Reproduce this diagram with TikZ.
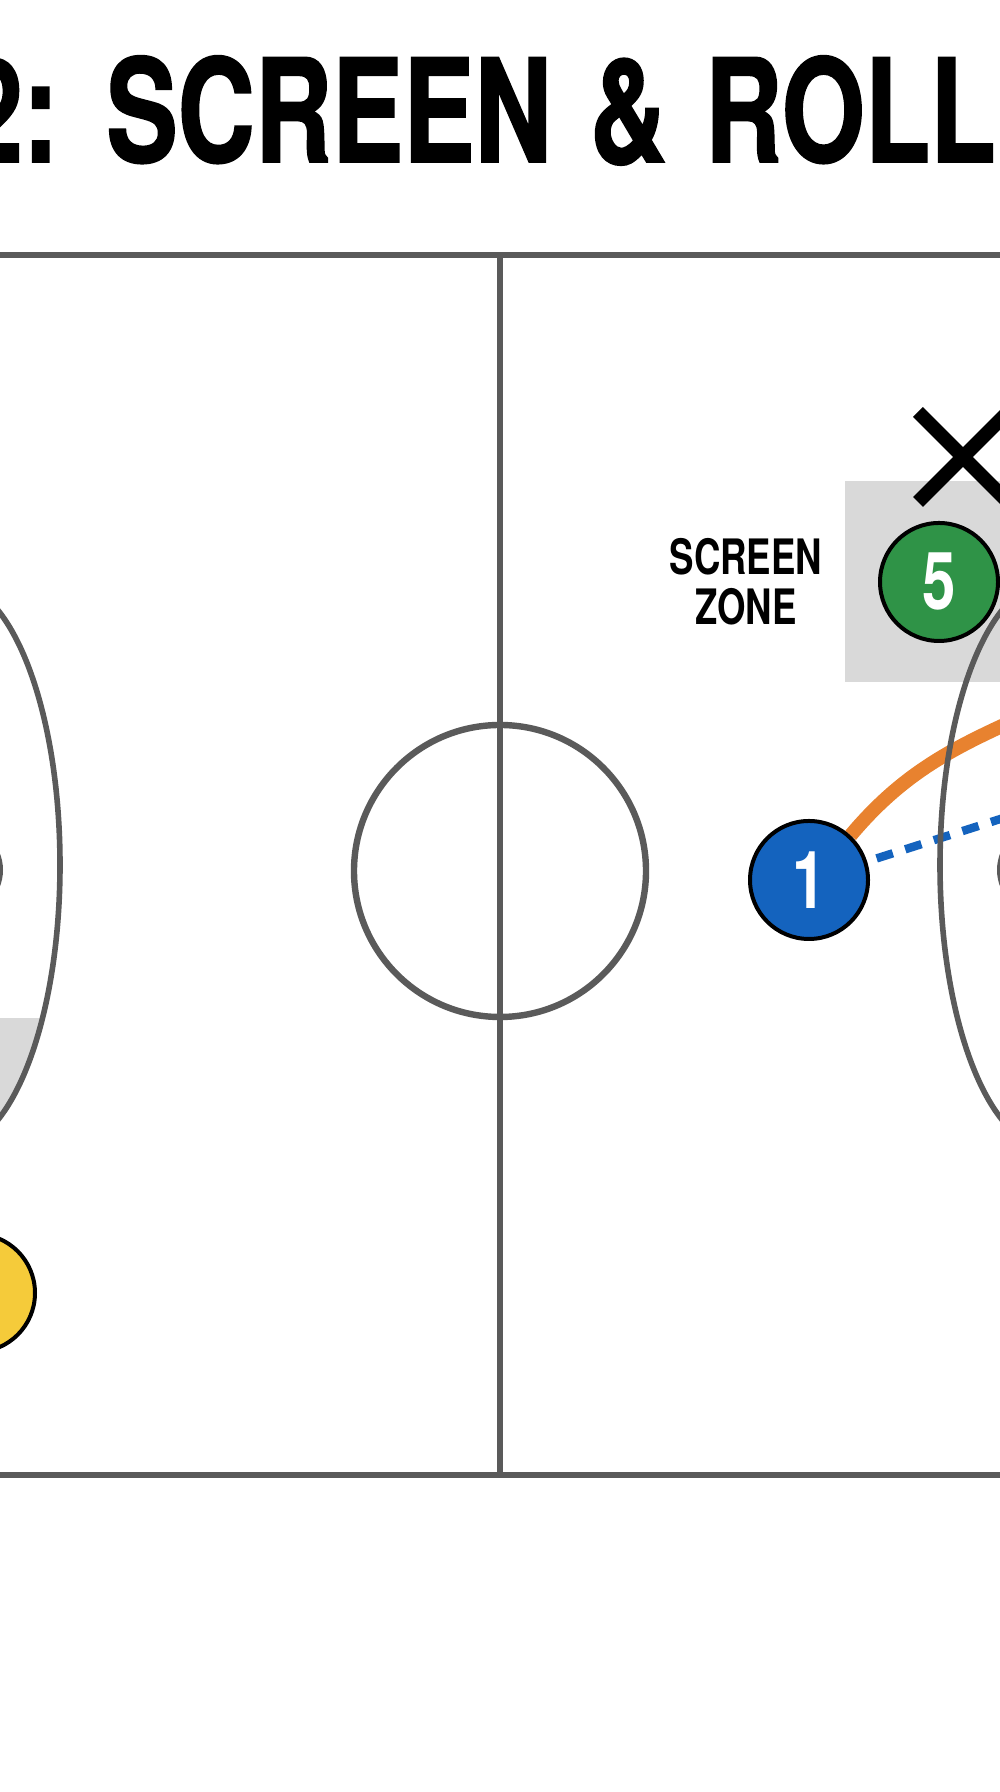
\documentclass[tikz,border=0pt]{standalone}
\usepackage{fontspec}
\setmainfont{TeX Gyre Heros}
\newfontfamily\condfont[FakeStretch=0.75]{TeX Gyre Heros}
\newfontfamily\titlefont[FakeStretch=0.745, BoldFeatures={FakeBold=1.2}]{TeX Gyre Heros}
\usetikzlibrary{positioning,shapes.misc,backgrounds}
\definecolor{courtline}{HTML}{5A5A5A}
\definecolor{zonegray}{HTML}{D9D9D9}
\definecolor{playblue}{HTML}{1463BE}
\definecolor{playgreen}{HTML}{2F9347}
\definecolor{playyellow}{HTML}{F5CB3A}
\definecolor{rollorange}{HTML}{E8822F}

\begin{document}
\begin{tikzpicture}[
    x=0.5pt, y=0.5pt,
    line/.style={draw=courtline, line width=3.2pt},
    player/.style={circle, draw=black, line width=2pt, minimum size=59pt, inner sep=0pt, text=white, font=\condfont\bfseries\fontsize{40}{40}\selectfont},
    zonebox/.style={rectangle, fill=zonegray, inner sep=0pt},
    cutpath/.style={draw=rollorange, line width=7pt},
    passpath/.style={draw=playblue, line width=4.2pt, dash pattern=on 8.5pt off 6.5pt}
]
\useasboundingbox (0,0) rectangle (1000,1792);
\clip (0,0) rectangle (1000,1792);

% Players
\node[player, fill=playblue] (p1) at (809,912) {1};
\node[player, fill=playgreen] (p5) at (939,1210) {5};
\node[player, fill=playyellow] (p3) at (-24,499) {};
\node[cross out, draw=black, line width=7pt, minimum size=38pt, inner sep=0pt] (def5) at (963,1335) {};

\coordinate (rollend) at (1070,1097);
\coordinate (passend) at (1060,992);

\begin{scope}[on background layer]
\fill[white] (0,0) rectangle (1000,1792);
% Zones
\node[zonebox, minimum width=97.5pt, minimum height=100.5pt] (zone) at (942.5,1210.5) {};
\begin{scope}
\clip (-50,927) ellipse (110 and 283);
\fill[zonegray] (-200,774) rectangle (200,600);
\end{scope}

% Actions
\draw[cutpath] (p1.47) to[out=50, in=205] (rollend);
\draw[passpath, shorten <=5pt] (p1) -- (passend);

% Court
\draw[line] (-10,1537) -- (1010,1537);
\draw[line] (-10,317) -- (1010,317);
\draw[line] (500,1537) -- (500,317);
\draw[line] (500,921) circle (146);
\draw[line, line width=2.8pt] (-50,927) ellipse (110 and 283);
\draw[line, line width=2.8pt] (1050,927) ellipse (110 and 283);
\draw[line, line width=2pt] (-43,922) circle (44);
\draw[line, line width=2pt] (1043,922) circle (44);
\end{scope}

% Labels
\node[font=\condfont\bfseries\fontsize{24.4}{25}\selectfont, align=center, inner sep=0pt, left=11pt of zone] (zonelbl) {SCREEN\\ZONE};
\node[font=\titlefont\bfseries\fontsize{71.75}{72}\selectfont, anchor=base west, inner sep=0pt] (title) at (-37,1630) {\spaceskip=19pt\relax 2: SCREEN \& ROLL};

\end{tikzpicture}
\end{document}
